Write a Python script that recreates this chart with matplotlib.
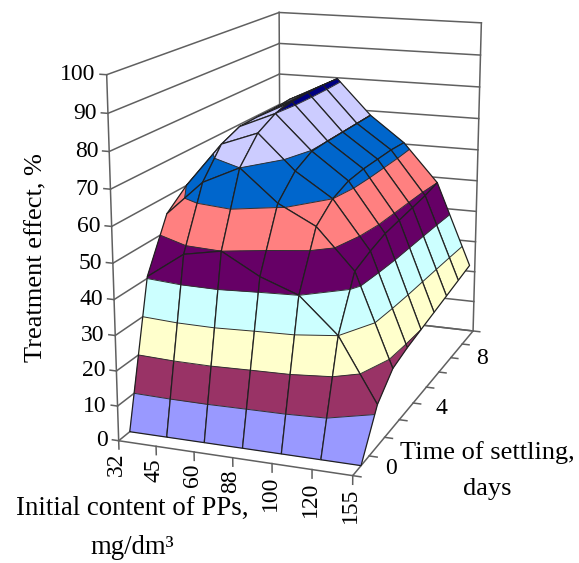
import numpy as np
import matplotlib
matplotlib.use('Agg')
import matplotlib.pyplot as plt
from mpl_toolkits.mplot3d import proj3d
from mpl_toolkits.mplot3d.art3d import Poly3DCollection, Line3DCollection

plt.rcParams['font.family'] = ['Liberation Serif', 'DejaVu Serif']

# initial content of PPs, mg/dm3
contents = ['32', '45', '60', '88', '100', '120', '155']
# settling time, days
days = [0, 1, 2, 3, 4, 5, 6, 7, 8]
day_labels = ['0', '4', '8']
z_ticks = [0, 10, 20, 30, 40, 50, 60, 70, 80, 90, 100]

# treatment effect, %, one list per day, same order as contents
day0 = [0, 0, 0, 0, 0, 0, 0]
day1 = [40.5, 48, 50, 44, 40, 30, 12]
day2 = [55, 65, 70, 61, 55.5, 44, 17.5]
day3 = [60, 73, 77, 67, 60, 46, 19]
day4 = [63, 75.4, 80, 69.8, 62, 47.5, 20]
day5 = [64, 75.6, 81, 70, 62.5, 48, 21]
day6 = [64, 75.6, 81.3, 70, 62.5, 48.5, 22]
day7 = [64, 76, 81.3, 70, 62.5, 49, 23]
day8 = [64, 75.5, 81, 70, 62, 50, 24]
effect = np.array([day0, day1, day2, day3, day4, day5, day6, day7, day8], float)

band_edges = [0, 10, 20, 30, 40, 50, 60, 70, 80, 90]
band_colors = ['#9999FF', '#993366', '#FFFFCC', '#CCFFFF', '#660066',
               '#FF8080', '#0066CC', '#CCCCFF', '#000080']


def clip(poly, level, keep_above):
    # cut a polygon (x, y, z points) with the plane z = level
    out = []
    for i in range(len(poly)):
        a, b = poly[i], poly[(i + 1) % len(poly)]
        ina = a[2] >= level if keep_above else a[2] <= level
        inb = b[2] >= level if keep_above else b[2] <= level
        if ina:
            out.append(a)
        if ina != inb:
            s = (level - a[2]) / (b[2] - a[2])
            out.append((a[0] + s * (b[0] - a[0]), a[1] + s * (b[1] - a[1]), level))
    return out


def pixel(x, y, z):
    # where a 3d point lands on the figure, pixels from lower left
    px, py, _ = proj3d.proj_transform(x, y, z, ax.get_proj())
    return ax.transData.transform((px, py))


W, H = 579, 563
fig = plt.figure(figsize=(W / 100, H / 100), dpi=100)
ax = fig.add_axes([17.17 / W, 50.16 / H, 573.8 / W, 573.8 / H], projection='3d')
ax.computed_zorder = False
nx = len(contents) - 1
ny = len(days)
ax.set_xlim(0, nx)
ax.set_ylim(0, ny)
ax.set_zlim(0, 100)
ax.view_init(elev=15.059, azim=-69.902)
ax.set_proj_type('persp', focal_length=0.53)
ax.set_box_aspect((1, 1.817, 1.499))
ax.set_axis_off()
ax.apply_aspect()

wall = '#606060'
for z in z_ticks:
    ax.plot([-0.17, 0], [0, 0], [z, z], color=wall, lw=1.1, zorder=1)
    ax.plot([0, 0], [0, ny], [z, z], color=wall, lw=1.1, zorder=1)
    ax.plot([0, nx], [ny, ny], [z, z], color=wall, lw=1.1, zorder=1)
    p = pixel(0, 0, z)
    fig.text((p[0] - 11) / W, p[1] / H, str(z), ha='right', va='center', fontsize=17)
ax.plot([0, 0], [0, 0], [0, 100], color=wall, lw=1.1, zorder=1)
ax.plot([0, 0], [ny, ny], [0, 100], color=wall, lw=1.1, zorder=1)
ax.plot([nx, nx], [ny, ny], [0, 100], color=wall, lw=1.1, zorder=1)
ax.plot([0, nx, nx], [0, 0, ny], [0, 0, 0], color=wall, lw=1.1, zorder=1)
ax.plot([0, nx], [ny, ny], [0, 0], color=wall, lw=1.1, zorder=1)
for i, name in enumerate(contents):
    ax.plot([i, i], [0, 0], [0, -2.4], color=wall, lw=1.1, zorder=1)
    p = pixel(i, 0, 0)
    fig.text((p[0] - 2) / W, (p[1] - 12) / H, name, rotation=90, ha='center', va='top', fontsize=17)
for j in range(ny + 1):
    ax.plot([nx, nx + 0.2], [j, j], [0, 0], color=wall, lw=1.1, zorder=1)
for name, xp, yp in zip(day_labels, [391, 441, 482], [468, 409, 358]):
    fig.text(xp / W, 1 - yp / H, name, ha='center', va='center', fontsize=17)

# back to front: far rows first, and in a row the far (small x) cells first
order = 2
for j in range(ny - 2, -1, -1):
    for i in range(nx):
        cell = [(i, j + 0.5, effect[j, i]), (i + 1, j + 0.5, effect[j, i + 1]),
                (i + 1, j + 1.5, effect[j + 1, i + 1]), (i, j + 1.5, effect[j + 1, i])]
        polys, cols, segs = [], [], []
        for k, col in enumerate(band_colors):
            piece = clip(clip(cell, band_edges[k], True), band_edges[k] + 10, False)
            if len(piece) < 3:
                continue
            polys.append(piece)
            cols.append(col)
            lev = band_edges[k]
            for n in range(len(piece)):
                a, b = piece[n], piece[(n + 1) % len(piece)]
                if a[2] == lev and b[2] == lev and lev > 0:
                    segs.append([a, b])
        ax.add_collection3d(Poly3DCollection(polys, facecolors=cols, edgecolors=cols,
                                             linewidths=0.3, zorder=order))
        if segs:
            ax.add_collection3d(Line3DCollection(segs, colors='#303030', linewidths=0.7,
                                                 zorder=order + 0.3))
        ax.add_collection3d(Line3DCollection([cell + cell[:1]], colors='#202020',
                                             linewidths=0.9, zorder=order + 0.6))
        order += 1

fig.text(36 / W, 1 - 258 / H, 'Treatment effect, %', rotation=90, ha='center', va='center', fontsize=19)
fig.text(132 / W, 1 - 508 / H, 'Initial content of PPs,', ha='center', va='center', fontsize=19.3)
fig.text(132 / W, 1 - 547 / H, 'mg/dm³', ha='center', va='center', fontsize=19.3)
fig.text(487 / W, 1 - 453 / H, 'Time of settling,', ha='center', va='center', fontsize=19)
fig.text(487 / W, 1 - 489 / H, 'days', ha='center', va='center', fontsize=19)

fig.savefig('out.png', dpi=100)
